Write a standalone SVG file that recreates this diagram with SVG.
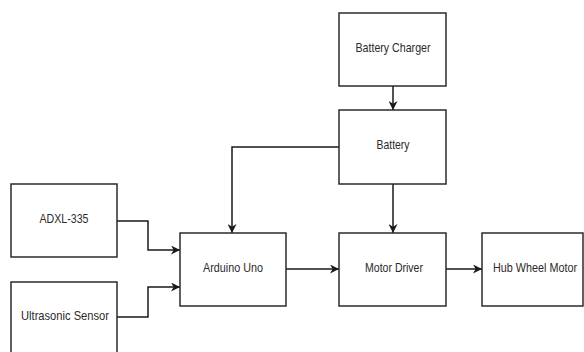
<svg xmlns="http://www.w3.org/2000/svg" width="584" height="352" viewBox="0 0 584 352">
<style>
.box{fill:#fff;stroke:#2b2b2b;stroke-width:1.5}
.lbl{font-family:"Liberation Sans",Arial,sans-serif;font-size:13px;fill:#2b2b2b;text-anchor:middle}
.con{fill:none;stroke:#1a1a1a;stroke-width:1.5;marker-end:url(#ah)}
</style>
<defs>
<marker id="ah" viewBox="0 0 10 10" refX="10" refY="5" markerWidth="6" markerHeight="6" markerUnits="strokeWidth" orient="auto">
<path d="M0,0 L10,5 L0,10 L3,5 Z" fill="#1a1a1a"/>
</marker>
</defs>
<rect width="584" height="352" fill="#fff"/>
<g id="connectors">
<path class="con" d="M393,86 V110"/>
<path class="con" d="M339,147 H232 V233"/>
<path class="con" d="M393,184 V233"/>
<path class="con" d="M117,221 H148 V250 H180"/>
<path class="con" d="M117,317 H148 V287 H180"/>
<path class="con" d="M286,269 H339"/>
<path class="con" d="M446,269 H482"/>
</g>
<g id="charger"><rect class="box" x="339" y="13" width="107" height="73"/><text class="lbl" x="393" y="52" textLength="75" lengthAdjust="spacingAndGlyphs">Battery Charger</text></g>
<g id="battery"><rect class="box" x="339" y="110" width="107" height="74"/><text class="lbl" x="393" y="149" textLength="33" lengthAdjust="spacingAndGlyphs">Battery</text></g>
<g id="adxl"><rect class="box" x="11" y="184" width="106" height="73"/><text class="lbl" x="64" y="223" textLength="49" lengthAdjust="spacingAndGlyphs">ADXL-335</text></g>
<g id="ultrasonic"><rect class="box" x="11" y="282" width="106" height="80"/><text class="lbl" x="65" y="320" textLength="88" lengthAdjust="spacingAndGlyphs">Ultrasonic Sensor</text></g>
<g id="arduino"><rect class="box" x="180" y="233" width="106" height="73"/><text class="lbl" x="233" y="272" textLength="60" lengthAdjust="spacingAndGlyphs">Arduino Uno</text></g>
<g id="motordriver"><rect class="box" x="339" y="233" width="107" height="73"/><text class="lbl" x="394" y="272" textLength="58" lengthAdjust="spacingAndGlyphs">Motor Driver</text></g>
<g id="hubmotor"><rect class="box" x="482" y="233" width="101" height="73"/><text class="lbl" x="535" y="272" textLength="84" lengthAdjust="spacingAndGlyphs">Hub Wheel Motor</text></g>
</svg>
